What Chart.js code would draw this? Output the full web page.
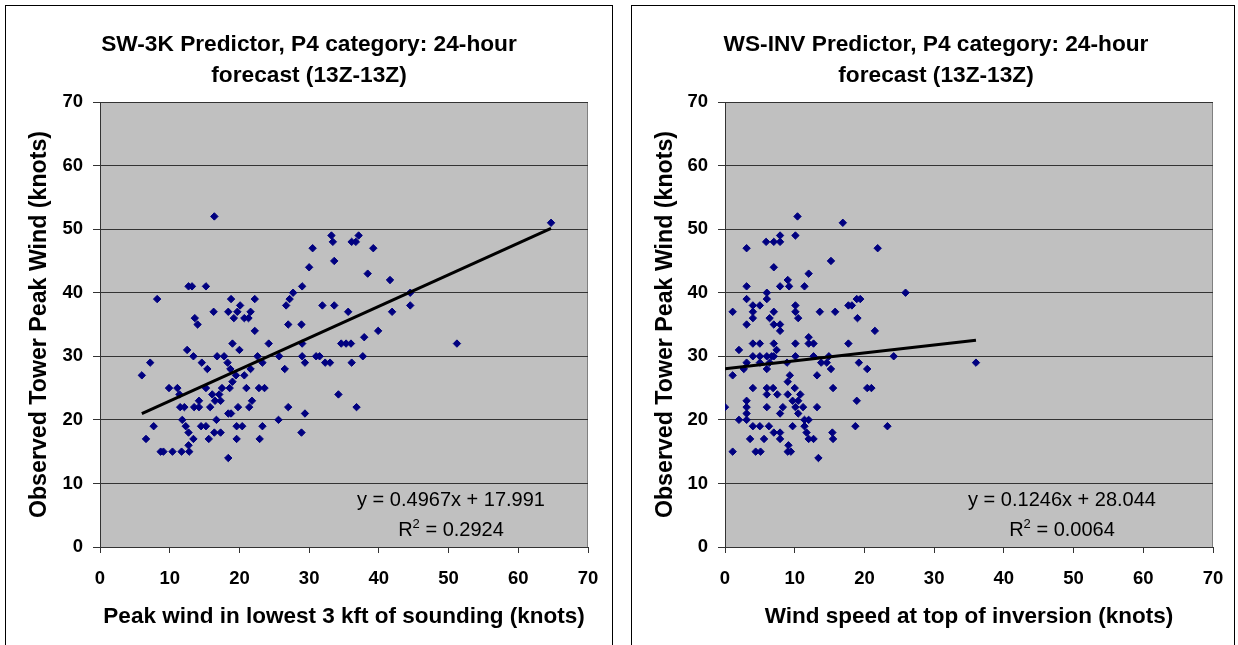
<!DOCTYPE html>
<html><head><meta charset="utf-8">
<script src="https://cdn.jsdelivr.net/npm/chart.js@4.4.0/dist/chart.umd.min.js"></script>
<style>
html,body{margin:0;padding:0;background:#fff;overflow:hidden;width:1238px;height:645px;}
.frame{position:absolute;top:5px;height:700px;border:1px solid #000;background:#fff;}
.frame canvas{position:absolute;left:0;top:0;}
</style></head><body>
<div class="frame" style="left:5px;width:606px;"><canvas id="c1" width="606" height="639"></canvas></div>
<div class="frame" style="left:631px;width:602px;"><canvas id="c2" width="602" height="639"></canvas></div>
<script>
// ---- data ----
const axisTicks = [0, 10, 20, 30, 40, 50, 60, 70];
const leftTitle = ['SW-3K Predictor, P4 category: 24-hour', 'forecast (13Z-13Z)'];
const rightTitle = ['WS-INV Predictor, P4 category: 24-hour', 'forecast (13Z-13Z)'];
const leftXTitle = 'Peak wind in lowest 3 kft of sounding (knots)';
const rightXTitle = 'Wind speed at top of inversion (knots)';
const yTitle = 'Observed Tower Peak Wind (knots)';

const leftX = [16.4,12.7,13.2,15.2,8.2,18.8,22.2,16.3,18.4,19.7,20.1,21.6,13.6,14.0,19.2,20.7,21.3,22.2,26.7,27.2,27.7,27.0,
  12.5,13.4,14.6,15.4,16.8,17.8,18.3,18.7,19.0,20.0,19.5,20.7,19.0,21.6,22.6,23.3,24.2,25.7,26.5,6.0,7.2,9.9,11.1,11.4,
  15.2,16.1,17.1,17.5,18.6,14.2,16.5,17.3,11.5,12.1,13.5,14.2,15.8,19.8,21.4,21.8,21.0,22.8,23.6,27.0,18.4,18.8,11.8,16.7,
  25.6,7.7,12.3,14.5,15.2,19.6,20.4,23.3,12.7,16.4,17.3,6.6,13.4,15.6,19.6,22.9,12.7,8.7,9.1,10.4,11.7,12.8,18.4,
  33.2,37.1,33.4,36.1,36.7,30.5,39.2,33.6,30.0,29.0,38.4,41.6,44.5,44.5,41.9,31.9,33.6,35.6,28.9,39.9,37.9,29.0,34.6,35.3,
  36.0,51.2,29.0,31.0,31.5,37.7,29.4,32.3,33.0,36.1,34.2,36.8,29.4,28.9,64.7];
const leftY = [52,41,41,41,39,39,39,37,37,37,38,37,36,35,36,36,36,34,38,39,40,35,
  31,30,29,28,30,30,29,28,32,31,27,27,26,28,30,29,32,30,28,27,29,25,25,24,
  25,24,24,25,25,23,23,23,22,22,22,22,22,22,22,23,25,25,25,22,21,21,20,20,
  20,19,19,19,19,19,19,19,18,18,18,17,17,17,17,17,16,15,15,15,15,15,14,
  49,49,48,48,48,47,47,45,44,41,43,42,40,38,37,38,38,37,35,34,33,32,32,32,
  32,32,30,30,30,30,29,29,29,29,24,22,21,18,51];

const rightX = [10.4,16.9,5.9,7.0,7.9,7.9,10.1,3.1,15.2,7.0,12.0,9.0,3.1,7.9,9.2,11.4,6.0,3.1,6.0,
  1.1,4.0,5.0,10.1,4.0,7.0,10.1,13.6,15.8,4.0,6.4,10.5,3.1,7.0,7.9,7.9,4.0,5.0,7.0,10.1,12.0,12.0,12.7,
  2.0,7.4,4.0,5.0,6.0,6.7,7.0,10.1,12.7,14.9,5.0,6.4,3.1,8.9,13.8,14.6,1.1,2.7,6.0,15.2,9.3,13.2,9.0,
  4.0,6.0,6.9,10.0,6.0,7.5,9.0,10.8,3.1,9.7,10.5,0.0,3.1,6.0,8.3,10.1,11.2,13.2,3.1,7.9,10.5,2.0,3.1,11.4,12.0,
  4.0,5.0,6.3,9.7,11.4,3.6,5.6,7.9,7.0,7.9,11.7,12.0,12.7,9.1,1.1,4.4,5.1,9.0,9.45,13.4,
  21.9,25.9,18.9,19.4,17.7,18.2,19.0,21.5,17.7,24.2,36.0,19.2,20.4,15.5,20.4,21.0,18.9,18.7,23.3,15.4,15.5];
const rightY = [52,51,48,48,48,49,49,47,45,44,43,42,41,41,41,41,40,39,39,
  37,38,38,38,37,37,37,37,37,36,36,36,35,35,35,34,32,32,32,32,33,32,32,
  31,31,30,30,30,30,30,30,30,30,29,29,29,29,29,29,27,28,28,28,27,27,26,
  25,25,25,25,24,24,24,24,23,23,23,22,22,22,22,22,22,22,21,21,21,20,20,20,20,
  19,19,19,19,19,17,17,17,18,18,18,17,17,16,15,15,15,15,15,14,
  47,40,39,39,38,38,36,34,32,30,29,29,28,25,25,25,23,19,19,18,17];

// trendline coefficients [slope, intercept] and the x span they cover
const leftTrend = [0.4967, 17.991];
const leftTrendSpan = [6.0, 64.7];
const rightTrend = [0.1246, 28.044];
const rightTrendSpan = [0.0, 36.0];
const leftEq = ['y = 0.4967x + 17.991', '0.2924'];
const rightEq = ['y = 0.1246x + 28.044', '0.0064'];

// ---- drawing ----
const FONT = '"Liberation Sans", Arial, sans-serif';
Chart.defaults.font.family = FONT;

const plotBg = {
  id: 'plotBg',
  beforeDraw(chart) {
    const {ctx, chartArea: a} = chart;
    ctx.save();
    ctx.fillStyle = '#C0C0C0';
    ctx.fillRect(a.left, a.top, a.right - a.left, a.bottom - a.top);
    ctx.strokeStyle = '#808080';
    ctx.lineWidth = 1;
    ctx.beginPath();
    ctx.moveTo(Math.round(a.right) - 0.5, a.top);
    ctx.lineTo(Math.round(a.right) - 0.5, a.bottom);
    ctx.stroke();
    ctx.restore();
  }
};

function eqPlugin(eq, dx) {
  return {
    id: 'eqText',
    afterDatasetsDraw(chart) {
      const {ctx, chartArea: a} = chart;
      const cx = a.left + dx, y1 = a.bottom - 41, y2 = a.bottom - 11;
      ctx.save();
      ctx.fillStyle = '#000';
      ctx.textBaseline = 'alphabetic';
      ctx.font = '20px ' + FONT;
      ctx.textAlign = 'center';
      ctx.fillText(eq[0], cx, y1);
      ctx.textAlign = 'left';
      const sA = 'R', sC = ' = ' + eq[1];
      const wA = ctx.measureText(sA).width, wC = ctx.measureText(sC).width;
      ctx.font = '13px ' + FONT;
      const wB = ctx.measureText('2').width;
      let x = cx - (wA + wB + wC) / 2;
      ctx.font = '20px ' + FONT;
      ctx.fillText(sA, x, y2); x += wA;
      ctx.font = '13px ' + FONT;
      ctx.fillText('2', x, y2 - 8); x += wB;
      ctx.font = '20px ' + FONT;
      ctx.fillText(sC, x, y2);
      ctx.restore();
    }
  };
}

function makeChart(id, xs, ys, trend, span, title, xTitle, eq, o) {
  const pts = xs.map((x, i) => ({x: x, y: ys[i]}));
  const line = span.map(x => ({x: x, y: trend[0] * x + trend[1]}));
  return new Chart(document.getElementById(id), {
    type: 'scatter',
    data: {
      datasets: [
        {data: pts, pointStyle: 'rectRot', pointRadius: 3.7, pointHoverRadius: 3.7,
         backgroundColor: '#000080', borderColor: '#000080', pointBorderWidth: 1, order: 2},
        {type: 'line', data: line, borderColor: '#000', borderWidth: 3, pointRadius: 0,
         fill: false, showLine: true, order: 1, borderCapStyle: 'butt'}
      ]
    },
    options: {
      responsive: false, animation: false, devicePixelRatio: 1,
      layout: {padding: {left: o.padLeft, right: 0, top: 0, bottom: 0}},
      plugins: {
        legend: {display: false}, tooltip: {enabled: false},
        title: {display: true, text: title, color: '#000',
          font: {family: FONT, size: 22.7, weight: 'bold', lineHeight: 31 / 22.7},
          padding: {top: 23.5, bottom: 10.5}}
      },
      scales: {
        x: {
          type: 'linear', min: axisTicks[0], max: axisTicks[axisTicks.length - 1],
          afterBuildTicks(s) { s.ticks = axisTicks.map(v => ({value: v})); },
          ticks: {color: '#000', font: {family: FONT, size: 18.5, weight: 'bold'}, padding: 15,
                  maxRotation: 0, autoSkip: false},
          grid: {drawOnChartArea: false, drawTicks: true, tickLength: 6, color: '#333', lineWidth: 1},
          border: {display: true, color: '#333', width: 1},
          title: {display: true, text: xTitle, color: '#000',
            font: {family: FONT, size: 22.5, weight: 'bold', lineHeight: 1.2},
            padding: {top: 0, bottom: 14.5}},
          afterFit(s) { s.height = 98; s.paddingRight = o.padRight; s.paddingLeft = 0; }
        },
        y: {
          type: 'linear', min: axisTicks[0], max: axisTicks[axisTicks.length - 1],
          afterBuildTicks(s) { s.ticks = axisTicks.map(v => ({value: v})); },
          ticks: {color: '#000', font: {family: FONT, size: 18.5, weight: 'bold'}, padding: 10},
          grid: {drawOnChartArea: true, drawTicks: true, tickLength: 7, color: '#333', lineWidth: 1},
          border: {display: true, color: '#333', width: 1},
          title: {display: true, text: yTitle, color: '#000',
            font: {family: FONT, size: 23.2, weight: 'bold', lineHeight: 1.2},
            padding: {top: o.yTitlePad, bottom: 0}},
          afterFit(s) { s.width = o.yWidth; s.paddingTop = 0; s.paddingBottom = 0; }
        }
      }
    },
    plugins: [plotBg, eqPlugin(eq, o.eqDx)]
  });
}

makeChart('c1', leftX, leftY, leftTrend, leftTrendSpan, leftTitle, leftXTitle, leftEq,
  {padLeft: 0, padRight: 24, yWidth: 94, yTitlePad: 19.6, eqDx: 351});
makeChart('c2', rightX, rightY, rightTrend, rightTrendSpan, rightTitle, rightXTitle, rightEq,
  {padLeft: 6, padRight: 21, yWidth: 87, yTitlePad: 13.6, eqDx: 337});
</script>
</body></html>
